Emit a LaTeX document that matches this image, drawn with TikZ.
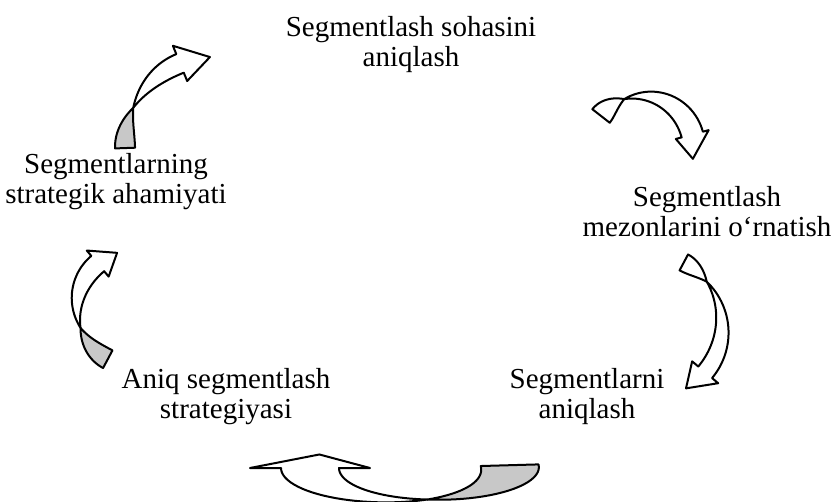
\documentclass[tikz,border=0pt]{standalone}
\usepackage{fontspec}
\setmainfont{Liberation Serif}
\usetikzlibrary{positioning}
\definecolor{fold}{RGB}{200,200,200}

% twisted curved block arrow round the origin:
% #1 tail fill, #2 radius, #3 tail angle, #4 twist angle,
% #5 head angle, #6 tip angle, #7 half width, #8 head half width
\newcommand{\twistarrow}[8]{%
  \filldraw[arrowline, fill=#1]
    plot[domain=#4:#3, samples=24] (\x:{#2+#7*sin(90*(\x-(#4))/((#3)-(#4)))})
    -- plot[domain=#3:#4, samples=24] (\x:{#2-#7*sin(90*(\x-(#4))/((#3)-(#4)))})
    -- cycle;
  \filldraw[arrowline, fill=white]
    plot[domain=#4:#5, samples=30] (\x:{#2+#7*sin(90*(\x-(#4))/((#5)-(#4)))})
    -- (#5:{#2+#8}) -- (#6:#2) -- (#5:{#2-#8})
    -- plot[domain=#5:#4, samples=30] (\x:{#2-#7*sin(90*(\x-(#4))/((#5)-(#4)))})
    -- cycle;
}

\begin{document}
\begin{tikzpicture}[x=1pt, y=-1pt,
    lbl/.style={align=center, inner sep=0pt, font=\fontsize{29}{30}\selectfont},
    arrowline/.style={draw=black, line width=2pt, line join=round}
  ]
  \useasboundingbox (0,0) rectangle (834,502);

  % stages
  \node[lbl] (soha)   at (411,45)  {Segmentlash sohasini\\aniqlash};
  \node[lbl] (mezon)  at (707,212) {Segmentlash\\mezonlarini o‘rnatish};
  \node[lbl] (segm)   at (587,397) {Segmentlarni\\aniqlash};
  \node[lbl] (strat)  at (226,397) {Aniq segmentlash\\strategiyasi};
  \node[lbl] (ahamiy) at (116,182) {Segmentlarning\\strategik ahamiyati};

  % curved arrows
  \begin{scope}[shift={(642,148)}]
    \twistarrow{white}{52}{218}{250}{345}{372}{11}{17}
  \end{scope}
  \begin{scope}[shift={(650,326)}]
    \twistarrow{white}{72}{-62}{-38}{40}{60}{9}{17}
  \end{scope}
  \begin{scope}[shift={(410,468)}, yscale=0.32]
    \twistarrow{fold}{100}{-5}{80}{180}{205}{29}{60}
  \end{scope}
  \begin{scope}[shift={(135,308)}]
    \twistarrow{fold}{58}{118}{160}{230}{252}{10}{17}
  \end{scope}
  \begin{scope}[shift={(213,145)}]
    \twistarrow{fold}{88}{178}{205}{248}{268}{10}{19}
  \end{scope}
\end{tikzpicture}
\end{document}
